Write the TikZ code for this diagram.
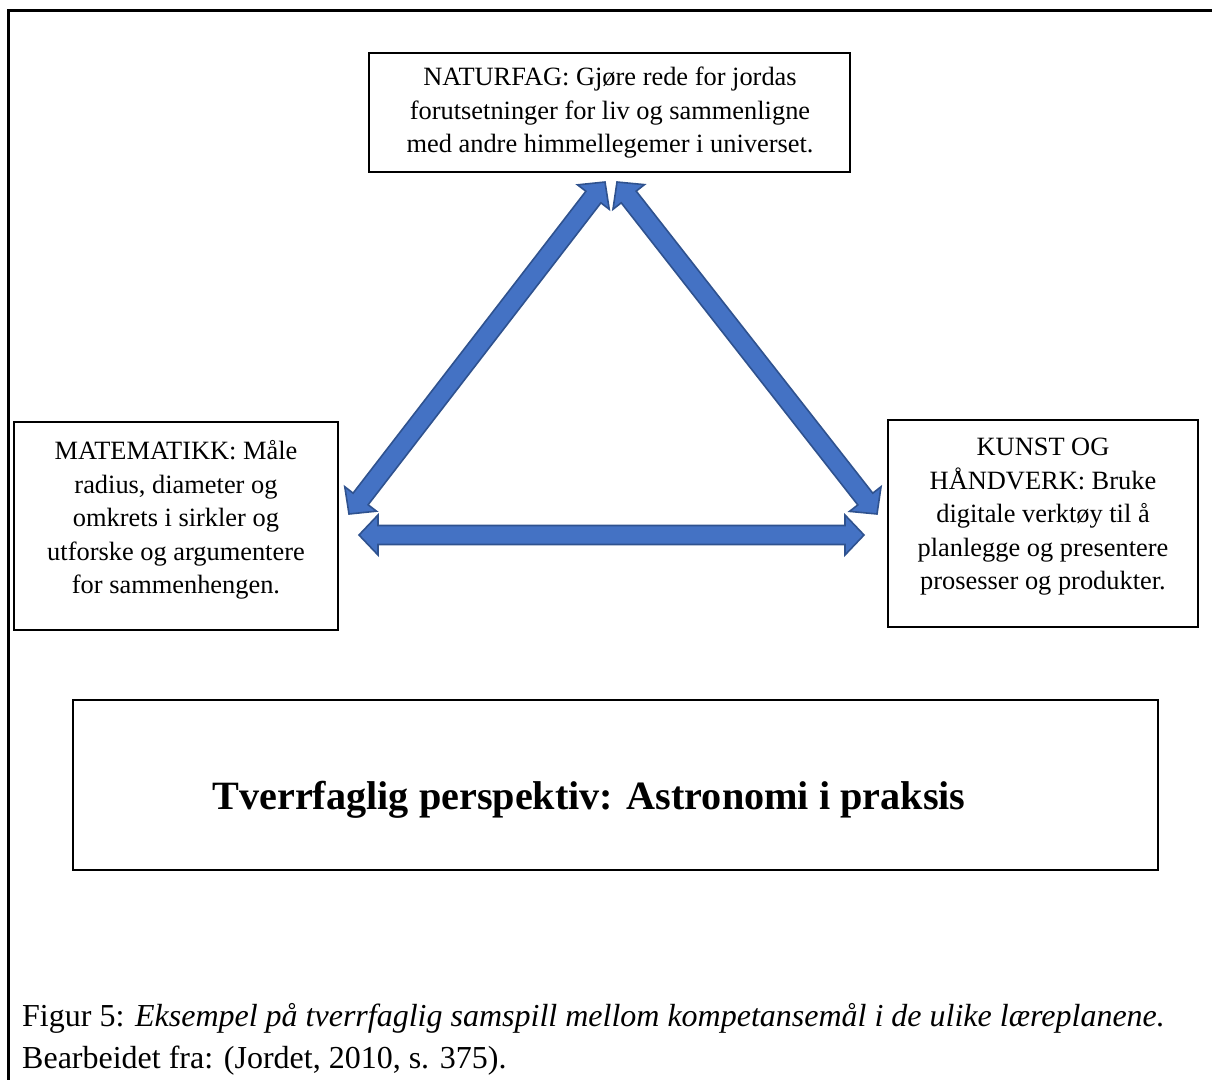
\documentclass[tikz,border=0pt]{standalone}
\usepackage{fontspec}
\setmainfont{Liberation Serif}
\usetikzlibrary{calc}
\definecolor{arrowblue}{HTML}{4472C4}
\definecolor{arrowedge}{HTML}{2F528F}
\tikzset{
  boxframe/.style={draw=black, line width=1.8pt, fill=white, inner sep=0pt},
  boxtext/.style={align=center, inner sep=0pt, font=\fontsize{26.4}{33.5}\selectfont},
  barrow/.style={fill=arrowblue, draw=arrowedge, line width=1.6pt, line join=miter},
  frameline/.style={draw=black, line width=3pt},
  captext/.style={anchor=base west, inner sep=0pt, font=\fontsize{32}{40}\selectfont},
}
\newcommand\blockarrow[3]{%
  \coordinate (#3s) at ($(#1)!19pt!(#2)$);
  \coordinate (#3e) at ($(#2)!19pt!(#1)$);
  \draw[barrow] (#1)
    -- ($(#3s)!20pt!-90:(#2)$) -- ($(#3s)!9.5pt!-90:(#2)$)
    -- ($(#3e)!9.5pt!90:(#1)$) -- ($(#3e)!20pt!90:(#1)$)
    -- (#2)
    -- ($(#3e)!20pt!-90:(#1)$) -- ($(#3e)!9.5pt!-90:(#1)$)
    -- ($(#3s)!9.5pt!90:(#2)$) -- ($(#3s)!20pt!90:(#2)$) -- cycle;
}
\begin{document}
\begin{tikzpicture}[x=1pt,y=-1pt]
\useasboundingbox (0,0) rectangle (1212,1079);
\fill[white] (0,0) rectangle (1212,1079);
% outer frame (cropped)
\coordinate (fbl) at (8,1085);
\coordinate (ftl) at (8,10);
\coordinate (ftr) at (1220,10);
\draw[frameline] (fbl) -- (ftl) -- (ftr);

% boxes
\node[boxframe, minimum width=481pt, minimum height=119pt] (nat) at (609.5,112.5) {};
\node[boxtext] (nattext) at (610,113) {NATURFAG: Gjøre rede for jordas\\forutsetninger for liv og sammenligne\\med andre himmellegemer i universet.};

\node[boxframe, minimum width=324pt, minimum height=208pt] (mat) at (176,526) {};
\node[boxtext] (mattext) at (176,520) {MATEMATIKK: Måle\\radius, diameter og\\omkrets i sirkler og\\utforske og argumentere\\for sammenhengen.};

\node[boxframe, minimum width=310pt, minimum height=207pt] (kunst) at (1043,523.5) {};
\node[boxtext] (kunsttext) at (1043,517) {KUNST OG\\HÅNDVERK: Bruke\\digitale verktøy til å\\planlegge og presentere\\prosesser og produkter.};

\node[boxframe, minimum width=1085pt, minimum height=170pt] (titlebox) at (615.5,785) {};
\node[inner sep=0pt, font=\fontsize{40.2}{46}\selectfont\bfseries] (title) at (589,800) {Tverrfaglig perspektiv: Astronomi i praksis};

% caption
\node[captext] (cap1) at (22,1026) {Figur 5: \textit{Eksempel på tverrfaglig samspill mellom kompetansemål i de ulike læreplanene.}};
\node[captext] (cap2) at (22,1068) {Bearbeidet fra: (Jordet, 2010, s. 375).};

% arrow tips
\coordinate (natL) at (605,182);
\coordinate (natR) at (617,182);
\coordinate (matT) at (349,514);
\coordinate (matR) at (359,535);
\coordinate (kunT) at (877,514);
\coordinate (kunL) at (864,535);

\blockarrow{matT}{natL}{aone}
\blockarrow{kunT}{natR}{atwo}
\blockarrow{matR}{kunL}{athree}
\end{tikzpicture}
\end{document}
